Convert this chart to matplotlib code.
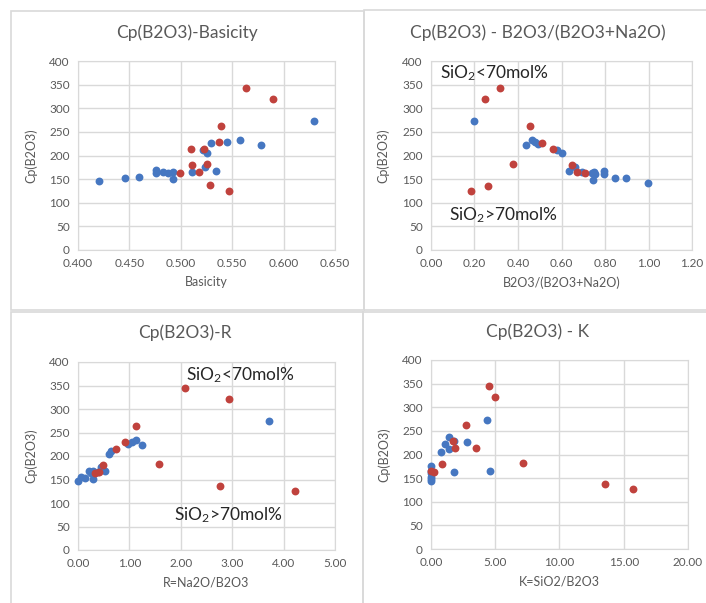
import matplotlib
matplotlib.use('Agg')
import matplotlib.pyplot as plt
import matplotlib.patches as patches
from matplotlib.ticker import FormatStrFormatter
import numpy as np

plt.rcParams['font.family'] = ['Lato', 'DejaVu Sans']
plt.rcParams['mathtext.default'] = 'regular'

W, H = 706, 603

# data
# blue / red series, one pair of arrays for each chart
basicity_blue = [0.4205, 0.4456, 0.4596, 0.4754, 0.4754, 0.4822, 0.4873, 0.4924, 0.4924, 0.511,
                 0.5213, 0.5255, 0.5236, 0.5294, 0.5342, 0.5448, 0.5576, 0.5778, 0.6299]
cp_basicity_blue = [146, 153, 154, 169, 162, 165, 163, 165, 151, 165,
                    212, 205, 176, 226, 168, 228, 233, 222, 274]
basicity_red = [0.5631, 0.5894, 0.5393, 0.5371, 0.5097, 0.5226, 0.511, 0.5251, 0.4991, 0.5178, 0.5281, 0.5473]
cp_basicity_red = [342, 319, 263, 228, 214, 214, 180, 183, 163, 165, 137, 125]

ratio_blue = [0.197, 0.435, 0.465, 0.478, 0.490, 0.578, 0.602, 0.633, 0.661, 0.696,
              0.739, 0.750, 0.754, 0.747, 0.797, 0.797, 0.847, 0.897, 0.997]
cp_ratio_blue = [273, 222, 233, 228, 225, 211, 205, 168, 175, 165,
                 163, 165, 161, 148, 167, 161, 153, 153, 142]
ratio_red = [0.184, 0.246, 0.315, 0.260, 0.378, 0.453, 0.509, 0.561, 0.648, 0.671, 0.708]
cp_ratio_red = [125, 319, 342, 136, 182, 262, 227, 214, 179, 165, 162]

r_blue = [0.0, 0.06, 0.13, 0.21, 0.245, 0.30, 0.30, 0.39, 0.44, 0.53,
          0.60, 0.65, 0.98, 1.05, 1.12, 1.24, 3.71]
cp_r_blue = [146, 155, 154, 168, 163, 168, 151, 166, 177, 168,
             205, 210, 225, 229, 235, 223, 275]
r_red = [2.08, 2.94, 1.13, 0.92, 0.74, 0.48, 0.34, 0.40, 1.58, 2.76, 4.23]
cp_r_red = [344, 321, 263, 229, 214, 181, 164, 166, 184, 137, 125]

k_blue = [0.0, 0.0, 0.0, 0.0, 0.0, 0.0, 1.40, 1.06, 0.78, 1.40, 1.79, 2.77, 1.81, 4.56, 4.36]
cp_k_blue = [176, 165, 160, 153, 148, 143, 236, 223, 206, 212, 229, 226, 163, 166, 274]
k_red = [2.75, 1.71, 1.84, 3.47, 0.86, 7.18, 0.0, 0.2, 4.53, 4.97, 13.53, 15.73]
cp_k_red = [263, 229, 214, 214, 180, 183, 166, 163, 344, 321, 137, 126]

blue = '#4677C1'
red = '#C0423D'
grid = '#D9D9D9'
txt = '#595959'

fig = plt.figure(figsize=(W / 100, H / 100), dpi=100)


def fx(px):
    return px / W


def fy(py):
    return 1 - py / H


# chart boxes
def box(x0, y0, x1, y1):
    fig.add_artist(patches.Rectangle((fx(x0), fy(y1)), fx(x1 - x0), (y1 - y0) / H,
                                     transform=fig.transFigure, fill=False,
                                     edgecolor=grid, linewidth=1.2))


box(11, 11, 364, 310)
box(364, 10, 730, 310)
box(11, 312, 363, 640)
box(363, 312, 730, 640)


def panel(rect, title, tpos, xs, ys, xlim, xstep, fmt, xlabel):
    x0, y0, x1, y1 = rect
    ax = fig.add_axes([fx(x0), fy(y1), fx(x1 - x0), (y1 - y0) / H])
    ax.scatter(xs[0], ys[0], s=32, color=blue, zorder=3, linewidths=0, clip_on=False)
    ax.scatter(xs[1], ys[1], s=32, color=red, zorder=3, linewidths=0, clip_on=False)
    ax.set_xlim(*xlim)
    ax.set_ylim(0, 400)
    ax.set_xticks(np.arange(xlim[0], xlim[1] + xstep / 2, xstep))
    ax.set_yticks(np.arange(0, 401, 50))
    ax.xaxis.set_major_formatter(FormatStrFormatter(fmt))
    ax.grid(True, color=grid, linewidth=1)
    ax.set_axisbelow(True)
    for s in ax.spines.values():
        s.set_color(grid)
    ax.tick_params(length=0, labelsize=8.5, colors=txt, pad=6)
    ax.set_xlabel(xlabel, fontsize=9, color=txt, labelpad=5)
    ax.set_ylabel('Cp(B2O3)', fontsize=9, color=txt)
    ax.yaxis.set_label_coords(-0.16, 0.5)
    fig.text(fx(tpos[0]), fy(tpos[1]), title, fontsize=12.5, color=txt,
             ha='center', va='center')
    return ax


ax1 = panel((78, 61, 335, 250), 'Cp(B2O3)-Basicity', (187, 33),
            (basicity_blue, basicity_red), (cp_basicity_blue, cp_basicity_red),
            (0.4, 0.65), 0.05, '%.3f', 'Basicity')
ax2 = panel((431, 61, 692, 250), 'Cp(B2O3) - B2O3/(B2O3+Na2O)', (538, 33),
            (ratio_blue, ratio_red), (cp_ratio_blue, cp_ratio_red),
            (0, 1.2), 0.2, '%.2f', 'B2O3/(B2O3+Na2O)')
ax3 = panel((78, 362, 335, 550), 'Cp(B2O3)-R', (185, 333),
            (r_blue, r_red), (cp_r_blue, cp_r_red),
            (0, 5), 1, '%.2f', 'R=Na2O/B2O3')
ax4 = panel((431, 360, 688, 549), 'Cp(B2O3) - K', (538, 332),
            (k_blue, k_red), (cp_k_blue, cp_k_red),
            (0, 20), 5, '%.2f', 'K=SiO2/B2O3')

# annotations
lo = 'SiO$_2$<70mol%'
hi = 'SiO$_2$>70mol%'
fig.text(fx(494), fy(73), lo, fontsize=12.5, color='#262626', ha='center', va='center')
fig.text(fx(503), fy(215), hi, fontsize=12.5, color='#262626', ha='center', va='center')
fig.text(fx(240), fy(375), lo, fontsize=12.5, color='#262626', ha='center', va='center')
fig.text(fx(228), fy(515), hi, fontsize=12.5, color='#262626', ha='center', va='center')

fig.savefig('out.png', dpi=100)
